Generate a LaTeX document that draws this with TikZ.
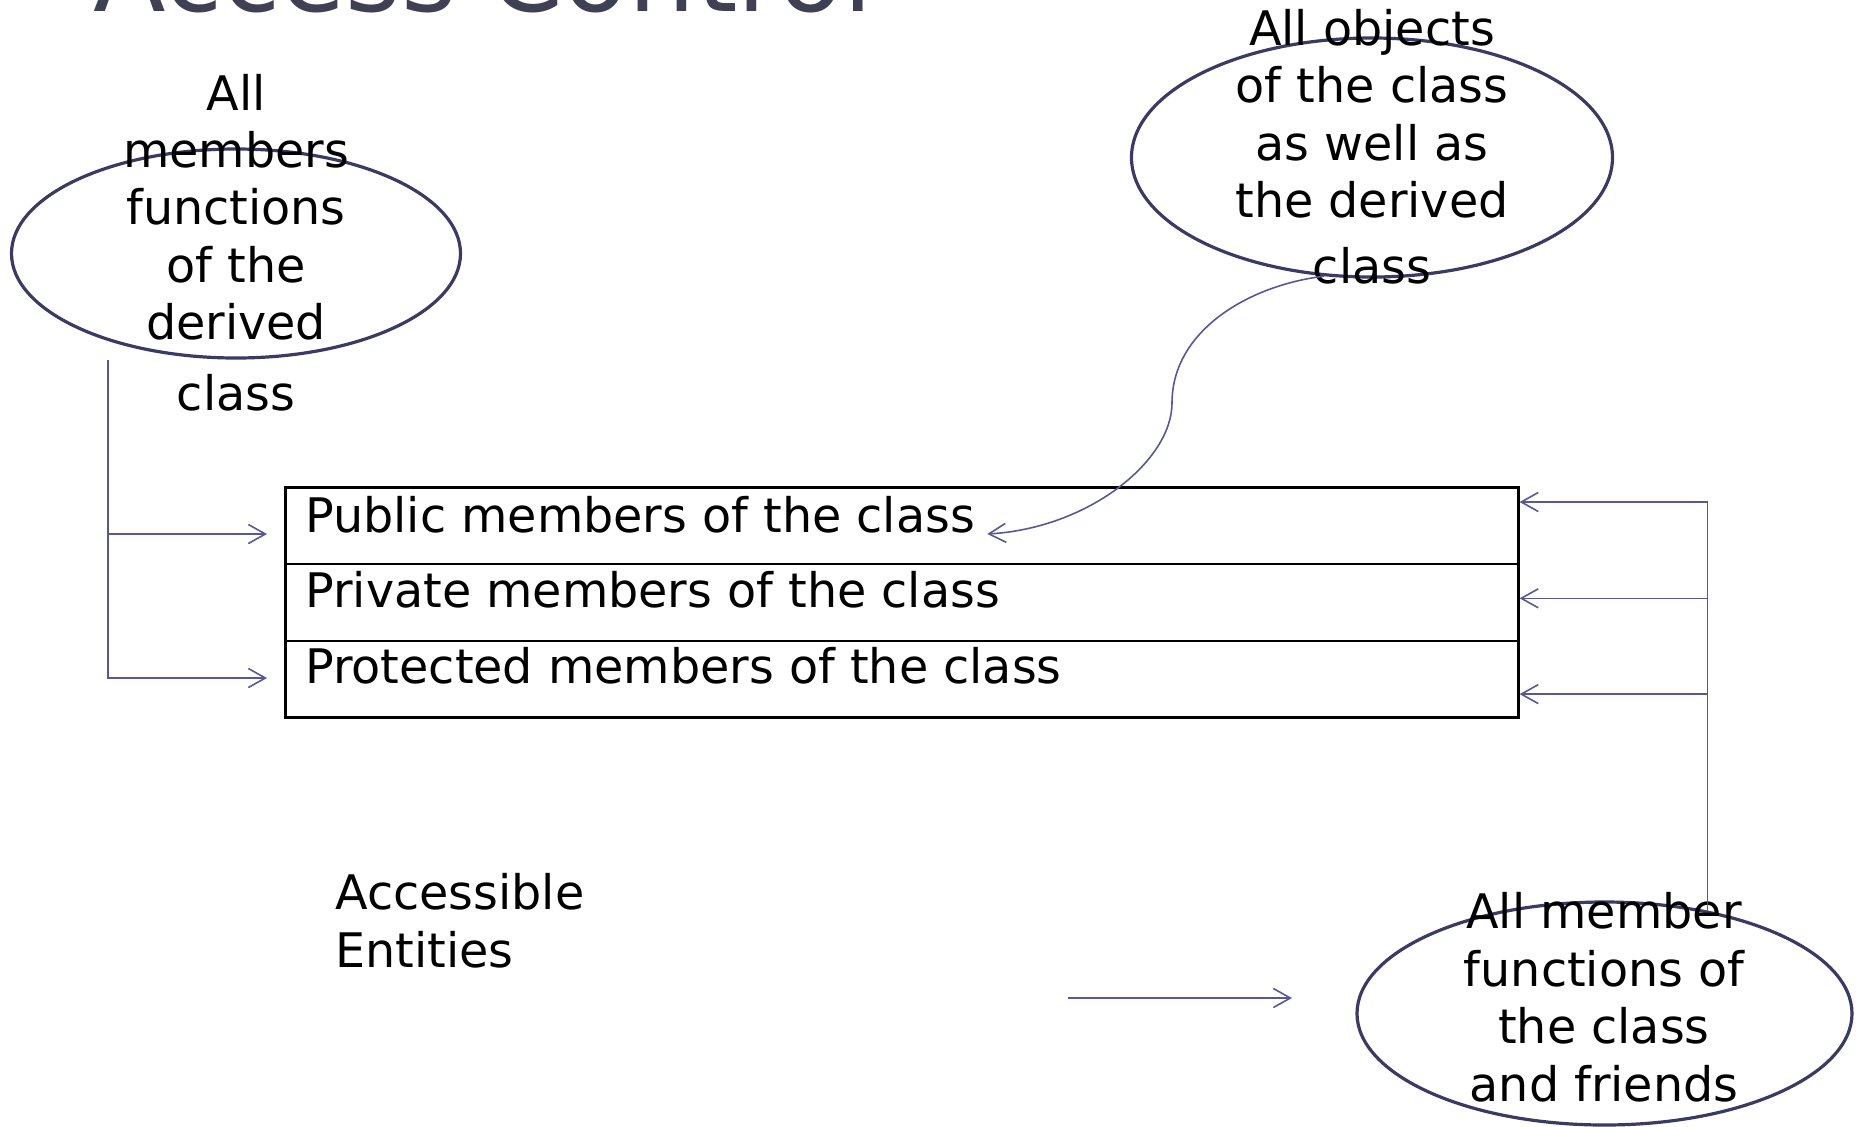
\documentclass[tikz,border=0pt]{standalone}
\usepackage{fontspec}
\setmainfont{DejaVu Sans}
\usetikzlibrary{shapes.geometric,arrows.meta,calc}
\definecolor{ellcol}{RGB}{58,58,98}
\definecolor{conncol}{RGB}{88,88,150}
\definecolor{titlecol}{RGB}{64,64,84}
\begin{document}
\begin{tikzpicture}[x=0.5pt,y=-0.5pt,
  ell/.style={ellipse, draw=ellcol, line width=1.6pt, inner sep=0pt},
  row/.style={rectangle, draw=black, line width=1.3pt, minimum width=616.5pt, minimum height=38.4pt, inner sep=0pt, anchor=north west},
  txt/.style={font=\fontsize{23.8pt}{28.7pt}\selectfont, inner sep=0pt, align=center},
  arr/.style={draw=conncol, line width=0.8pt, -{Straight Barb[length=8.5pt,width=9.5pt]}},
  ln/.style={draw=conncol, line width=0.8pt}]

\useasboundingbox (0,0) rectangle (1858,1126);

% title (cut off at the top)
\node[anchor=base west, inner sep=0pt, text=titlecol, font=\fontsize{53pt}{60pt}\selectfont] (title) at (93,11) {Access Control};

% class table
\node[row] (pubR) at (284,486) {};
\node[row] (privR) at (284,562.8) {};
\node[row] (protR) at (284,639.6) {};
\node[txt, anchor=base west] (pubT) at (305,532) {Public members of the class};
\node[txt, anchor=base west] (privT) at (305,607) {Private members of the class};
\node[txt, anchor=base west] (protT) at (305,683) {Protected members of the class};

% ellipses
\node[ell, minimum width=224.5pt, minimum height=104.5pt] (derivedE) at (236,253.5) {};
\node[ell, minimum width=240.5pt, minimum height=119.5pt] (objE) at (1372,157.5) {};
\node[ell, minimum width=247.5pt, minimum height=111.5pt] (friendsE) at (1604.5,1013.5) {};

% ellipse texts (anchor = baseline of last line)
\node[txt, anchor=base] (derivedT) at (236,410) {All\\members\\functions\\of the\\derived\\[6.5pt]class};
\node[txt, anchor=base] (objT) at (1372,283) {All objects\\of the class\\as well as\\the derived\\[4pt]class};
\node[txt, anchor=base] (friendsT) at (1604,1101) {All member\\functions of\\the class\\and friends};
\node[txt, anchor=base west, align=left] (accT) at (335,967) {Accessible\\Entities};

% left connectors
\coordinate (lb) at (108,678);
\coordinate (pl1) at ($(pubR.north west)+(-17,48)$);
\coordinate (pl3) at ($(protR.north west)+(-17,38.4)$);
\draw[arr] (derivedE.south -| lb) -- (lb) -- (pl3);
\draw[arr] (lb |- pl1) -- (pl1);

% right connectors
\coordinate (pr1) at ($(pubR.north east)+(0,16)$);
\coordinate (pr2) at ($(privR.north east)+(0,35.5)$);
\coordinate (pr3) at ($(protR.north east)+(0,54.5)$);
\draw[arr] (friendsE.45) -- (friendsE.45 |- pr1) -- (pr1);
\draw[arr] (friendsE.45 |- pr2) -- (pr2);
\draw[arr] (friendsE.45 |- pr3) -- (pr3);

% curved connector from objects ellipse to public members
\coordinate (bend) at (1172,403);
\coordinate (pubTip) at ($(pubT.base east)+(12,2)$);
\draw[arr] (objE.-112) .. controls (1250,285) and (1172,330) .. (bend)
  .. controls (1172,460) and (1090,528) .. (pubTip);

% legend arrow
\coordinate (legA) at (1068,998);
\coordinate (legB) at (1292,998);
\draw[arr] (legA) -- (legB);
\end{tikzpicture}
\end{document}
